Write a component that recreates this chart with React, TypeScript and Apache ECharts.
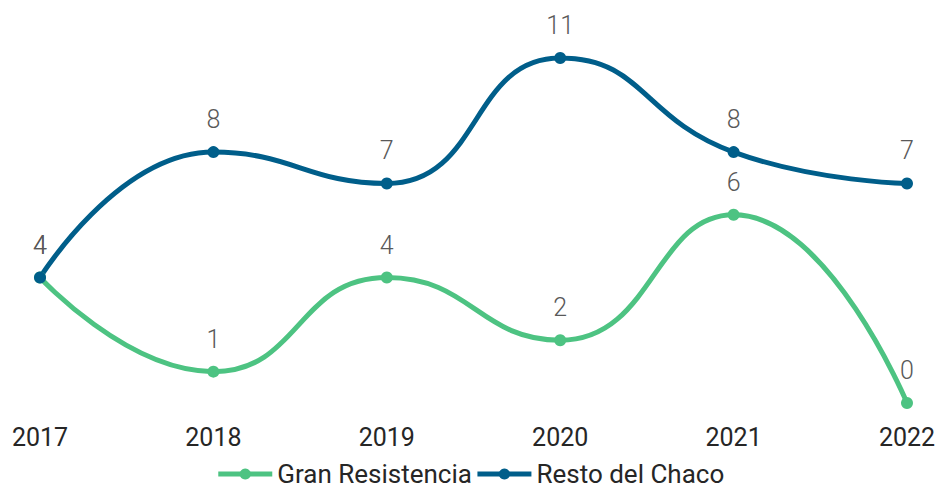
import React, { useEffect, useRef } from "react";
import * as echarts from "echarts";

const categories = ["2017", "2018", "2019", "2020", "2021", "2022"];
const granResistencia = [4, 1, 4, 2, 6, 0];
const restoChaco = [4, 8, 7, 11, 8, 7];

export default function App() {
  const ref = useRef<HTMLDivElement>(null);
  useEffect(() => {
    if (!ref.current) return;
    const chart = echarts.init(ref.current, null, { renderer: "svg" });
    const label = {
      show: true,
      position: "top",
      distance: 14,
      fontSize: 25,
      fontFamily: "Roboto",
      fontWeight: 300,
      color: "#595959",
    };
    chart.setOption({
      animation: false,
      textStyle: { fontFamily: "Roboto" },
      grid: { left: 40, right: 33, top: 58, bottom: 88, containLabel: false },
      legend: {
        top: 461,
        padding: 0,
        left: "center",
        itemWidth: 54,
        itemHeight: 14,
        itemGap: 3,
        lineStyle: { width: 5 },
        textStyle: { fontSize: 26, lineHeight: 24, color: "#262626", fontFamily: "Roboto" },
        data: ["Gran Resistencia", "Resto del Chaco"],
      },
      xAxis: {
        type: "category",
        data: categories,
        boundaryGap: false,
        axisLine: { show: false },
        axisTick: { show: false },
        axisLabel: { fontSize: 25, color: "#262626", margin: 22, fontFamily: "Roboto" },
      },
      yAxis: {
        type: "value",
        min: 0,
        max: 11,
        show: false,
        splitLine: { show: false },
      },
      series: [
        {
          name: "Gran Resistencia",
          type: "line",
          data: granResistencia,
          smooth: 0.5,
          symbol: "circle",
          symbolSize: 12,
          lineStyle: { width: 5, color: "#4DC382" },
          itemStyle: { color: "#4DC382" },
          label,
        },
        {
          name: "Resto del Chaco",
          type: "line",
          data: restoChaco,
          smooth: 0.5,
          symbol: "circle",
          symbolSize: 12,
          lineStyle: { width: 5, color: "#005E8A" },
          itemStyle: { color: "#005E8A" },
          label,
        },
      ],
    });
    return () => chart.dispose();
  }, []);
  return <div ref={ref} style={{ width: 940, height: 491, position: "absolute", left: 0, top: 0 }} />;
}
